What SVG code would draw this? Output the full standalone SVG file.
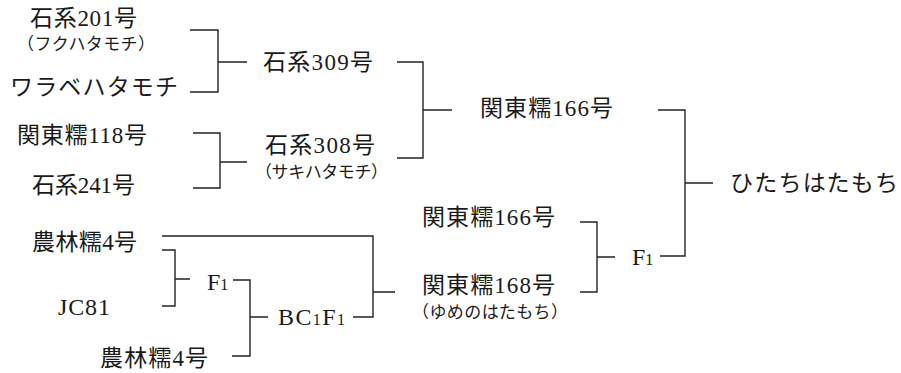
<svg xmlns="http://www.w3.org/2000/svg" width="901" height="373" viewBox="0 0 901 373">
<style>
text{font-family:"Liberation Serif","Noto Sans CJK JP",serif;fill:#1a1a1a;font-size:23px}
text.s{font-size:17px}
text.f{font-size:24px}
tspan.sub{font-size:16px}
.c path{fill:none;stroke:#222;stroke-width:1.4}
</style>
<rect width="901" height="373" fill="#fff"/>
<g id="n-ishi201"><text x="30" y="26" textLength="107" lengthAdjust="spacing">石系201号</text><text class="s" x="17" y="50" textLength="138" lengthAdjust="spacing">（フクハタモチ）</text></g>
<g id="n-warabe"><text x="10" y="95" textLength="168" lengthAdjust="spacing">ワラベハタモチ</text></g>
<g id="n-ishi309"><text x="263" y="70" textLength="110" lengthAdjust="spacing">石系309号</text></g>
<g id="n-kanto118"><text x="17" y="143" textLength="130" lengthAdjust="spacing">関東糯118号</text></g>
<g id="n-ishi241"><text x="32" y="193" textLength="103" lengthAdjust="spacing">石系241号</text></g>
<g id="n-ishi308"><text x="265" y="153" textLength="110" lengthAdjust="spacing">石系308号</text><text class="s" x="255" y="178" textLength="133" lengthAdjust="spacing">（サキハタモチ）</text></g>
<g id="n-kanto166a"><text x="480" y="116" textLength="133" lengthAdjust="spacing">関東糯166号</text></g>
<g id="n-hitachi"><text x="730" y="191" textLength="168" lengthAdjust="spacing">ひたちはたもち</text></g>
<g id="n-kanto166b"><text x="422" y="225" textLength="133" lengthAdjust="spacing">関東糯166号</text></g>
<g id="n-kanto168"><text x="422" y="293" textLength="133" lengthAdjust="spacing">関東糯168号</text><text class="s" x="412" y="318" textLength="156" lengthAdjust="spacing">（ゆめのはたもち）</text></g>
<g id="n-f1-right"><text class="f" x="632" y="265">F<tspan class="sub">1</tspan></text></g>
<g id="n-norin4a"><text x="32" y="250" textLength="105" lengthAdjust="spacing">農林糯4号</text></g>
<g id="n-jc81"><text class="f" x="58" y="315" textLength="52" lengthAdjust="spacing">JC81</text></g>
<g id="n-f1-left"><text class="f" x="207" y="290">F<tspan class="sub">1</tspan></text></g>
<g id="n-bc1f1"><text class="f" x="278" y="325" textLength="67" lengthAdjust="spacing">BC<tspan class="sub">1</tspan>F<tspan class="sub">1</tspan></text></g>
<g id="n-norin4b"><text x="100" y="366" textLength="108" lengthAdjust="spacing">農林糯4号</text></g>
<g id="connectors" class="c">
<path d="M190,30 H218 V92 H190 M218,62 H247"/>
<path d="M193,133 H220 V188 H193 M220,162 H247"/>
<path d="M397,62 H423 V158 H397 M423,110 H452"/>
<path d="M658,110 H685 V256 H660 M685,183 H713"/>
<path d="M580,222 H597 V292 H580 M597,257 H615"/>
<path d="M162,236 H373 V317 H353 M373,292 H395"/>
<path d="M162,250 H175 V306 H162 M175,279 H190"/>
<path d="M233,280 H250 V356 H232 M250,317 H268"/>
</g>
</svg>
